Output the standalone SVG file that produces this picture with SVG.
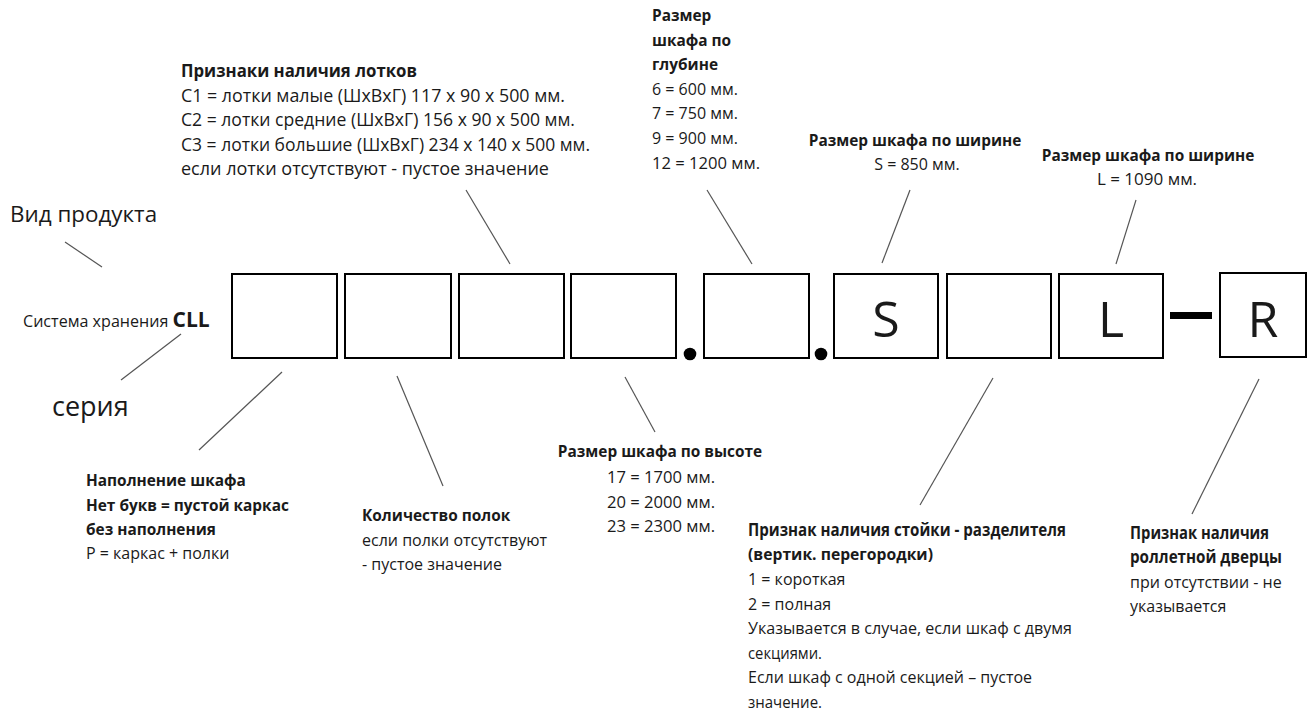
<svg xmlns="http://www.w3.org/2000/svg" width="1309" height="713" viewBox="0 0 1309 713">
<style>
text{font-family:"Open Sans","DejaVu Sans",sans-serif;fill:#1a1a1a}
.t{font-size:16px}
.b{font-size:15.4px;font-weight:bold}
.b17{font-size:17px;font-weight:bold}
.t17{font-size:17.4px}
.ltr{font-size:50px;text-anchor:middle}
.c{text-anchor:middle}
.box{fill:#fff;stroke:#000;stroke-width:2}
.con line{stroke:#555;stroke-width:1.2}
</style>
<rect width="1309" height="713" fill="#fff"/>
<g id="connectors" class="con">
<line x1="65" y1="242" x2="102" y2="267"/>
<line x1="181" y1="334" x2="121" y2="380"/>
<line x1="282" y1="372" x2="199" y2="450"/>
<line x1="397" y1="376" x2="443" y2="486"/>
<line x1="510" y1="264" x2="466" y2="190"/>
<line x1="625" y1="377" x2="655" y2="432"/>
<line x1="752" y1="264" x2="707" y2="190"/>
<line x1="882" y1="263" x2="910" y2="190"/>
<line x1="993" y1="378" x2="920" y2="505"/>
<line x1="1116" y1="264" x2="1136" y2="200"/>
<line x1="1259" y1="379" x2="1192" y2="514"/>
</g>
<g id="vid"><text x="10" y="222" style="font-size:22.4px">Вид продукта</text></g>
<g id="system"><text x="23" y="327" style="font-size:16.1px">Система хранения <tspan style="font-weight:bold;font-size:21px">CLL</tspan></text></g>
<g id="seria"><text x="52" y="416" style="font-size:27px">серия</text></g>
<g id="box1"><rect class="box" x="232" y="274" width="105" height="84"/></g>
<g id="box2"><rect class="box" x="345" y="274" width="106" height="84"/></g>
<g id="box3"><rect class="box" x="459" y="274" width="105" height="84"/></g>
<g id="box4"><rect class="box" x="571" y="274" width="105" height="84"/></g>
<g id="dot1"><circle cx="690" cy="354" r="6.3" fill="#000"/></g>
<g id="box5"><rect class="box" x="704" y="274" width="105" height="84"/></g>
<g id="dot2"><circle cx="821" cy="354" r="6.3" fill="#000"/></g>
<g id="boxS"><rect class="box" x="834" y="274" width="104" height="84"/><text class="ltr" x="886" y="337">S</text></g>
<g id="box7"><rect class="box" x="947" y="274" width="104" height="84"/></g>
<g id="boxL"><rect class="box" x="1059" y="274" width="104" height="84"/><text class="ltr" x="1111" y="337">L</text></g>
<g id="dash"><rect x="1170" y="312" width="42" height="7" fill="#000"/></g>
<g id="boxR"><rect class="box" x="1220" y="273" width="86" height="84"/><text class="ltr" x="1263" y="337">R</text></g>
<g id="lotki">
<text class="b17" x="181" y="77" textLength="236" lengthAdjust="spacingAndGlyphs">Признаки наличия лотков</text>
<text class="t17" x="181" y="102" textLength="384" lengthAdjust="spacingAndGlyphs">C1 = лотки малые (ШхВхГ) 117 x 90 x 500 мм.</text>
<text class="t17" x="181" y="126" textLength="394" lengthAdjust="spacingAndGlyphs">C2 = лотки средние (ШхВхГ) 156 x 90 x 500 мм.</text>
<text class="t17" x="181" y="151" textLength="409" lengthAdjust="spacingAndGlyphs">C3 = лотки большие (ШхВхГ) 234 x 140 x 500 мм.</text>
<text class="t17" x="181" y="175" textLength="368" lengthAdjust="spacingAndGlyphs">если лотки отсутствуют - пустое значение</text>
</g>
<g id="glubina">
<text class="b" x="652" y="21">Размер</text>
<text class="b" x="652" y="46">шкафа по</text>
<text class="b" x="652" y="70">глубине</text>
<text class="t" x="652" y="95">6 = 600 мм.</text>
<text class="t" x="652" y="119">7 = 750 мм.</text>
<text class="t" x="652" y="144">9 = 900 мм.</text>
<text class="t" x="652" y="169" textLength="108" lengthAdjust="spacingAndGlyphs">12 = 1200 мм.</text>
</g>
<g id="shirinaS">
<text class="b c" x="915" y="146">Размер шкафа по ширине</text>
<text class="t c" x="917" y="170">S = 850 мм.</text>
</g>
<g id="shirinaL">
<text class="b c" x="1148" y="161">Размер шкафа по ширине</text>
<text class="t c" x="1147" y="185" style="font-size:17px">L = 1090 мм.</text>
</g>
<g id="napolnenie">
<text class="b" x="86" y="486">Наполнение шкафа</text>
<text class="b" x="86" y="511">Нет букв = пустой каркас</text>
<text class="b" x="86" y="535">без наполнения</text>
<text class="t" x="86" y="559">P = каркас + полки</text>
</g>
<g id="polki">
<text class="b" x="362" y="521">Количество полок</text>
<text class="t" x="362" y="546">если полки отсутствуют</text>
<text class="t" x="362" y="570">- пустое значение</text>
</g>
<g id="vysota">
<text class="b c" x="660" y="457">Размер шкафа по высоте</text>
<text class="t c" x="661" y="483" style="font-size:16.6px">17 = 1700 мм.</text>
<text class="t c" x="661" y="508" style="font-size:16.6px">20 = 2000 мм.</text>
<text class="t c" x="661" y="532" style="font-size:16.6px">23 = 2300 мм.</text>
</g>
<g id="stoika">
<text class="b17" x="748" y="536" textLength="318" lengthAdjust="spacingAndGlyphs">Признак наличия стойки - разделителя</text>
<text class="b" x="748" y="560" textLength="185" lengthAdjust="spacingAndGlyphs">(вертик. перегородки)</text>
<text class="t" x="748" y="585">1 = короткая</text>
<text class="t" x="748" y="610">2 = полная</text>
<text class="t" x="748" y="634" textLength="324" lengthAdjust="spacingAndGlyphs">Указывается в случае, если шкаф с двумя</text>
<text class="t" x="748" y="659" textLength="74" lengthAdjust="spacingAndGlyphs">секциями.</text>
<text class="t" x="748" y="683">Если шкаф с одной секцией – пустое</text>
<text class="t" x="748" y="708" textLength="74" lengthAdjust="spacingAndGlyphs">значение.</text>
</g>
<g id="roller">
<text class="b17" x="1130" y="539" textLength="139" lengthAdjust="spacingAndGlyphs">Признак наличия</text>
<text class="b17" x="1130" y="563" textLength="152" lengthAdjust="spacingAndGlyphs">роллетной дверцы</text>
<text class="t" x="1130" y="588">при отсутствии - не</text>
<text class="t" x="1130" y="612">указывается</text>
</g>
</svg>
